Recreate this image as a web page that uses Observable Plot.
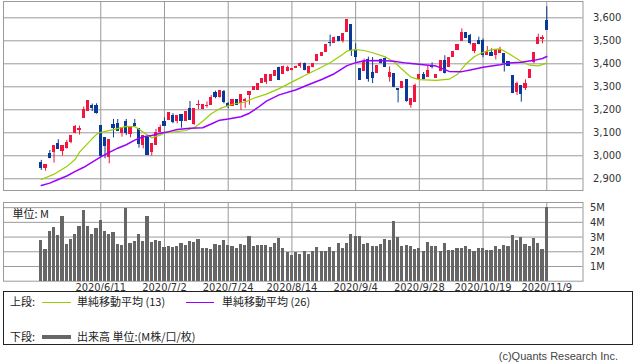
<!DOCTYPE html>
<html><head><meta charset="utf-8">
<script src="https://cdn.jsdelivr.net/npm/d3@7"></script>
<script src="https://cdn.jsdelivr.net/npm/@observablehq/plot@0.6"></script>
<style>
body{margin:0;background:#fff;}
#wrap{position:relative;width:638px;height:362px;overflow:hidden;font-family:"Noto Sans CJK JP",sans-serif;color:#222;}
#top{position:absolute;left:0;top:0;}
#vol{position:absolute;left:0;top:200px;}
#legend{position:absolute;left:3px;top:291px;width:630px;height:54px;border:1px solid #222;box-sizing:border-box;}
.lg{position:absolute;font-size:11px;line-height:11px;white-space:nowrap;}
.ln{position:absolute;}
#copy{position:absolute;right:20px;top:350px;font-size:11px;font-family:"Liberation Sans",sans-serif;color:#444;}
</style></head>
<body>
<div id="wrap">
  <div id="top"></div>
  <div id="vol"></div>
  <div id="legend"></div>
  <div id="copy"></div>
</div>
<script>
// ---- data ----
const opens = [2970,2946,3007,3015,3049,3022,3036,3062,3099,3113,
3164,3197,3215,3215,3128,3077,2994,3132,3139,3099,
3145,3093,3139,3116,3048,3077,3015,3049,3106,3145,
3154,3171,3151,3178,3151,3204,3139,3220,3204,3216,
3223,3272,3255,3277,3225,3219,3240,3229,3237,3265,
3287,3287,3316,3320,3327,3346,3381,3357,3370,3373,
3384,3393,3400,3359,3386,3414,3434,3451,3492,3491,
3516,3500,3540,3567,3461,3378,3368,3414,3358,3361,
3414,3422,3342,3357,3289,3296,3327,3223,3233,3333,
3353,3342,3388,3339,3368,3410,3388,3432,3461,3498,
3535,3519,3458,3498,3498,3440,3446,3440,3447,3443,
3407,3345,3277,3301,3294,3339,3407,3487,3508,3585];
const highs = [2980,2958,3023,3041,3070,3044,3067,3084,3132,3129,
3212,3236,3225,3226,3128,3077,3070,3158,3158,3122,
3158,3120,3158,3116,3084,3077,3052,3115,3133,3165,
3184,3183,3172,3178,3188,3236,3201,3240,3222,3234,
3262,3281,3284,3284,3232,3245,3243,3265,3250,3275,
3300,3310,3332,3353,3353,3367,3385,3390,3390,3377,
3390,3404,3403,3390,3400,3436,3446,3484,3525,3516,
3518,3530,3593,3567,3487,3378,3421,3429,3427,3390,
3420,3429,3387,3357,3289,3320,3330,3248,3312,3353,
3362,3391,3404,3349,3410,3435,3424,3450,3483,3552,
3535,3528,3484,3516,3508,3475,3465,3461,3472,3443,
3407,3345,3320,3301,3330,3374,3446,3529,3522,3648];
const lows = [2936,2933,2987,2968,3028,2999,3029,3052,3096,3090,
3164,3197,3193,3181,2994,2987,2965,3078,3110,3081,
3088,3078,3128,3033,3030,3001,2999,3049,3106,3129,
3154,3139,3139,3120,3151,3154,3132,3200,3200,3207,
3223,3248,3251,3226,3205,3217,3222,3197,3206,3220,
3287,3284,3316,3310,3327,3346,3327,3354,3365,3370,
3382,3380,3370,3354,3383,3412,3434,3449,3474,3491,
3496,3490,3538,3432,3407,3328,3368,3320,3314,3361,
3400,3385,3320,3296,3230,3296,3233,3207,3233,3333,
3330,3342,3378,3339,3368,3356,3388,3432,3461,3498,
3510,3482,3444,3483,3426,3440,3436,3417,3447,3364,
3393,3270,3262,3233,3284,3339,3400,3487,3487,3545];
const closes = [2946,2958,2990,3041,3028,3044,3056,3084,3125,3117,
3197,3236,3207,3188,3001,3042,3070,3122,3110,3122,
3099,3120,3128,3052,3084,3006,3052,3099,3122,3129,
3184,3148,3172,3152,3188,3154,3201,3222,3219,3218,
3252,3255,3281,3233,3215,3243,3222,3265,3243,3275,
3300,3310,3332,3353,3353,3367,3332,3385,3380,3377,
3387,3400,3375,3386,3400,3436,3446,3480,3489,3512,
3498,3530,3588,3461,3429,3330,3407,3335,3340,3390,
3404,3385,3359,3298,3285,3320,3237,3248,3301,3353,
3333,3367,3385,3349,3410,3359,3424,3450,3483,3535,
3513,3491,3484,3487,3440,3453,3436,3461,3461,3403,
3393,3272,3313,3267,3313,3374,3446,3513,3511,3549];
const volumes = [2.75,2.14,3.36,3.64,3.09,4.39,2.48,2.82,3.16,3.70,
4.80,3.70,3.16,3.57,4.11,3.36,3.16,3.30,2.48,2.41,
4.95,2.55,2.68,3.16,2.68,4.39,2.61,2.75,2.68,2.27,
2.34,2.27,2.34,2.55,2.41,2.68,2.61,2.82,2.20,2.20,
2.14,2.48,2.41,2.75,2.41,2.34,2.20,2.48,2.41,3.02,
2.34,2.41,2.41,2.41,2.27,2.55,2.89,2.20,1.93,1.73,
1.93,1.80,2.00,1.80,2.00,2.27,2.00,2.00,2.27,2.00,
2.55,2.20,2.55,3.16,3.02,3.02,2.48,2.55,2.34,2.34,
2.48,2.82,2.75,4.05,2.95,2.34,2.41,2.34,2.14,2.20,
2.00,2.61,2.34,2.34,2.00,2.55,2.07,2.07,2.20,2.20,
2.34,2.14,2.00,2.20,2.20,2.07,2.07,2.34,2.14,2.41,
2.34,3.09,2.75,2.95,2.48,2.34,2.89,2.55,2.14,4.98];
// moving averages: [candle index, value]
const ma13 = [[0,2897],[3,2920],[6,2953],[8,2985],[9,3016],[11,3055],[12,3075],[13,3093],[14,3102],[17,3114],
[20,3128],[22,3127],[23,3115],[25,3090],[26,3078],[28,3090],[29,3099],[31,3103],[34,3110],[36,3122],
[38,3150],[40,3183],[42,3205],[45,3224],[48,3234],[50,3250],[53,3268],[56,3292],[60,3330],[62,3349],
[65,3376],[68,3405],[71,3442],[72,3456],[74,3462],[76,3458],[78,3448],[81,3430],[83,3409],[85,3375],
[87,3342],[89,3331],[93,3328],[96,3333],[98,3355],[100,3400],[102,3432],[104,3450],[106,3462],[108,3465],
[110,3445],[113,3410],[115,3394],[117,3391],[119,3403]];
const ma26 = [[0,2871],[2,2881],[4,2897],[6,2912],[8,2932],[10,2950],[12,2972],[14,2995],[16,3015],[18,3033],
[20,3048],[22,3068],[24,3083],[26,3088],[28,3098],[30,3105],[32,3114],[35,3120],[38,3122],[40,3138],
[42,3155],[44,3160],[47,3170],[49,3185],[51,3210],[53,3238],[56,3265],[60,3287],[63,3310],[66,3332],
[69,3357],[72,3392],[74,3405],[76,3413],[80,3414],[83,3411],[86,3403],[90,3396],[93,3390],[96,3367],
[99,3366],[101,3373],[104,3385],[108,3396],[110,3403],[113,3407],[116,3415],[118,3423],[119,3432]];
const tickIdx = [14,29,44,59,74,89,104,119];
const tickLabels = ["2020/6/11","2020/7/2","2020/7/24","2020/8/14","2020/9/4","2020/9/28","2020/10/19","2020/11/9"];
const priceTicks = [2900,3000,3100,3200,3300,3400,3500,3600];
const volTicks = [1,2,3,4,5];
const legendTop = ["上段:", "単純移動平均 (13)", "単純移動平均 (26)"];
const legendBottom = ["下段:", "出来高 単位:(M株/口/枚)"];
const copyright = "(c)Quants Research Inc.";

// ---- styles ----
const RED = "#f2153f", BLUE = "#0a3a98", GREEN = "#9acd00", PURPLE = "#9b00ff", GRID = "#9a9a9a", VOL = "#666666";
const xDomain = [-8.9, 127.53];
const axisFont = "'DejaVu Sans Condensed','DejaVu Sans',sans-serif";

const candles = opens.map((o, i) => ({i, o, h: highs[i], l: lows[i], c: closes[i], up: closes[i] >= o}));
const ups = candles.filter(d => d.up), downs = candles.filter(d => !d.up);
const labelMap = new Map(tickIdx.map((t, k) => [t, tickLabels[k]]));

const candleMarks = (data, color) => [
  Plot.ruleX(data, {x: "i", y1: "l", y2: "h", stroke: color, strokeWidth: 1}),
  Plot.rect(data, {x1: d => d.i - 0.37, x2: d => d.i + 0.37, y1: d => Math.min(d.o, d.c), y2: d => Math.max(d.o, d.c),
    fill: color, insetTop: -0.6, insetBottom: -0.6, shapeRendering: "crispEdges"})
];

const topChart = Plot.plot({
  width: 638, height: 192, marginLeft: 3, marginRight: 55.5, marginTop: 1, marginBottom: 2,
  style: {fontFamily: axisFont, fontSize: "11px", color: "#333", background: "transparent", overflow: "visible"},
  x: {domain: xDomain, axis: null},
  y: {domain: [2849, 3671], axis: "right", ticks: priceTicks, tickFormat: d3.format(","), tickSize: 0, tickPadding: 10},
  marks: [
    Plot.gridY(priceTicks, {stroke: GRID, strokeOpacity: 1}),
    Plot.gridX(tickIdx, {stroke: GRID, strokeOpacity: 1}),
    Plot.frame({stroke: GRID}),
    ...candleMarks(ups, RED),
    ...candleMarks(downs, BLUE),
    Plot.line(ma13, {x: d => d[0], y: d => d[1], stroke: GREEN, strokeWidth: 1.2}),
    Plot.line(ma26, {x: d => d[0], y: d => d[1], stroke: PURPLE, strokeWidth: 1.5})
  ]
});
document.getElementById("top").append(topChart);

const volChart = Plot.plot({
  width: 638, height: 92, marginLeft: 3, marginRight: 55.5, marginTop: 2, marginBottom: 11.3,
  style: {fontFamily: axisFont, fontSize: "11px", color: "#333", background: "transparent", overflow: "visible"},
  x: {domain: xDomain, ticks: tickIdx, tickFormat: d => labelMap.get(d), tickSize: 0, tickPadding: 2},
  y: {domain: [0, 5.35], axis: "right", ticks: volTicks, tickFormat: d => d + "M", tickSize: 0, tickPadding: 7},
  marks: [
    Plot.gridY(volTicks, {stroke: GRID, strokeOpacity: 1}),
    Plot.gridX(tickIdx, {stroke: GRID, strokeOpacity: 1}),
    Plot.frame({stroke: GRID}),
    Plot.rect(volumes, {x1: (d, i) => i - 0.37, x2: (d, i) => i + 0.37, y1: 0, y2: d => d, fill: VOL, shapeRendering: "crispEdges"}),
    Plot.text(["単位: M"], {frameAnchor: "top-left", dx: 9, dy: 8, textAnchor: "start", fontSize: 11,
      fontFamily: "'Noto Sans CJK JP',sans-serif", fill: "#222"})
  ]
});
document.getElementById("vol").append(volChart);

// ---- legend ----
const lg = document.getElementById("legend");
function addText(t, x, y) { const s = document.createElement("div"); s.className = "lg"; s.textContent = t; s.style.left = (x - 4) + "px"; s.style.top = (y - 292 - 6) + "px"; lg.append(s); }
function addLine(x1, x2, y, w, c) { const d = document.createElement("div"); d.className = "ln"; d.style.left = (x1 - 4) + "px"; d.style.width = (x2 - x1) + "px"; d.style.top = (y - 292 - w / 2) + "px"; d.style.height = w + "px"; d.style.background = c; lg.append(d); }
addText(legendTop[0], 10, 302);
addLine(42, 71, 302, 1, GREEN);
addText(legendTop[1], 77, 302);
addLine(186, 214, 302, 1, PURPLE);
addText(legendTop[2], 222, 302);
addText(legendBottom[0], 10, 337);
addLine(42, 71, 337, 4, VOL);
addText(legendBottom[1], 77, 337);
document.getElementById("copy").textContent = copyright;
</script>
</body></html>
